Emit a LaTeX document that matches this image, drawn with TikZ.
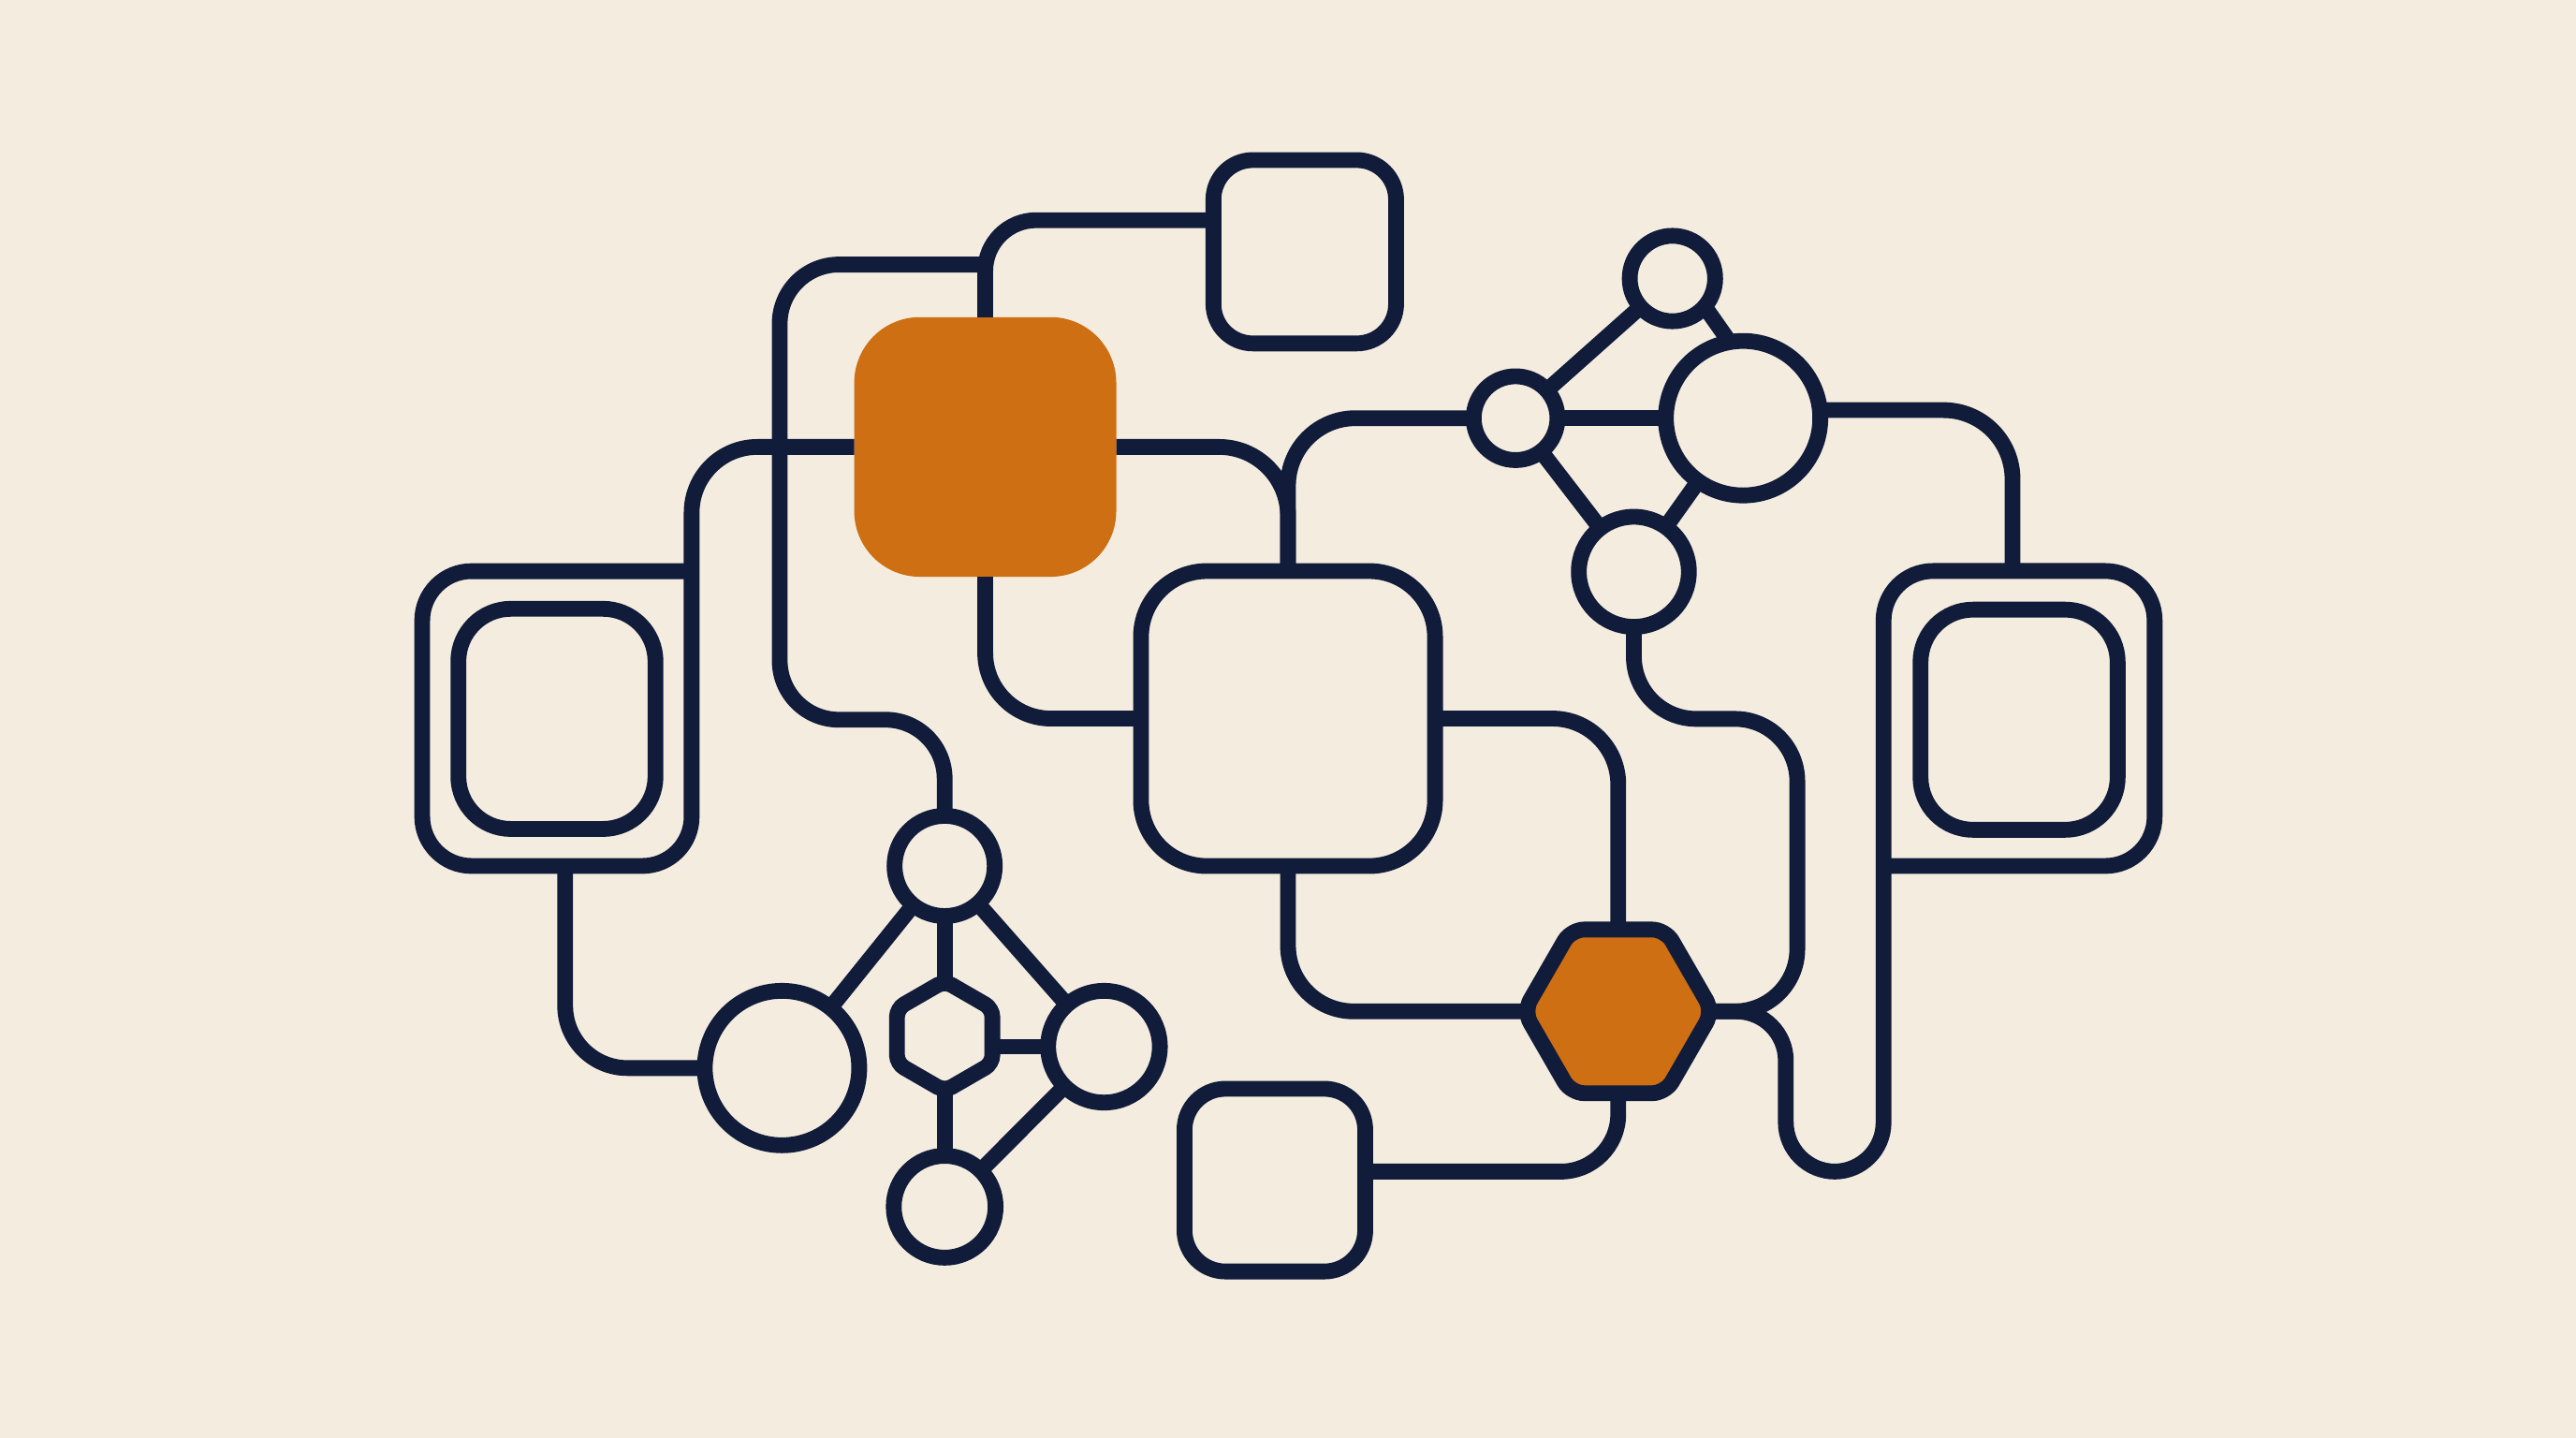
\documentclass[tikz,border=0pt]{standalone}
\usepackage[dvipsnames]{xcolor}
\usepackage{tikz}
\usetikzlibrary{shapes.geometric}

\definecolor{ink}{HTML}{111C3A}
\definecolor{rust}{HTML}{CD6F12}
\definecolor{paper}{HTML}{F4ECDF}

\begin{document}
\begin{tikzpicture}[x=0.5pt, y=-0.5pt, line width=4.8pt,
    wire/.style={draw=ink, line width=4.8pt},
    sq/.style={draw=ink, rectangle, rounded corners=#1, inner sep=0pt, outer sep=0pt},
    ring/.style={draw=ink, circle, inner sep=0pt, outer sep=0pt, minimum size=#1},
    hexa/.style={draw=ink, regular polygon, regular polygon sides=6, inner sep=0pt, outer sep=0pt, minimum size=#1}]
    % draw paper background
    \fill[paper] (0,0) rectangle (1568,875);

    % draw boxes
    \node[sq=12pt, minimum width=55.6pt, minimum height=55.8pt] (tbox) at (794.2,153.2) {};
    \node[fill=rust, rectangle, rounded corners=20pt, inner sep=0pt, outer sep=0pt, minimum width=79.75pt, minimum height=79pt] (core) at (599.7,272) {};
    \node[sq=20pt, minimum width=89.5pt, minimum height=89.75pt] (hub) at (784,437.3) {};
    \node[sq=16pt, minimum width=60pt, minimum height=67pt] (lin) at (339,437.5) {};
    \node[sq=16pt, minimum width=60pt, minimum height=67pt] (rin) at (1229,438) {};
    \node[sq=12.5pt, minimum width=55pt, minimum height=55.6pt] (bbox) at (776,718.2) {};

    % draw hexagons
    \node[hexa=33.5pt, rounded corners=2.5pt, shape border rotate=30] (hexl) at (575,630.5) {};
    \node[hexa=57.5pt, fill=rust, rounded corners=4pt] (hexr) at (985,615.5) {};

    % draw left cluster circles
    \node[ring=47pt] (la) at (476,650) {};
    \node[ring=30.5pt] (lb) at (575,527) {};
    \node[ring=34pt] (lc) at (672,637) {};
    \node[ring=31pt] (ld) at (575,734.4) {};

    % draw right cluster circles
    \node[ring=26pt] (ra) at (1018,169.5) {};
    \node[ring=25.5pt] (rb) at (922.5,254.5) {};
    \node[ring=47pt] (rc) at (1061,254.5) {};
    \node[ring=33.5pt] (rd) at (994.5,348) {};

    % junction points
    \coordinate (tin) at ([yshift=9.6pt]tbox.west);
    \coordinate (tl) at (599.7,161);
    \coordinate (lot) at (344,527);
    \coordinate (bin) at ([yshift=2.6pt]bbox.east);
    \coordinate (rtop) at (1225,347.5);

    % draw wires from the core
    \draw[wire, rounded corners=15.5pt] (core.north) -- (core.north |- tin) -- (tin);
    \draw[wire, rounded corners=18pt] (tl) -- (474.6,161) -- (474.6,438) -- (575,438) -- (lb.north);
    \draw[wire, rounded corners=20pt] (core.west) -- (421,272) [rounded corners=15pt] -- (421,527) -- (257,527) -- (257,347.6) -- (421,347.6);
    \draw[wire, rounded corners=19pt] (lot) -- (344,650) -- (la.west);
    \draw[wire, rounded corners=21pt] (core.east) -- (core.east -| hub.north) -- (hub.north);
    \draw[wire, rounded corners=20pt] (core.south) -- (core.south |- hub.west) -- (hub.west);

    % draw wires around the hub
    \draw[wire, rounded corners=20.5pt] (rb.west) -- (rb.west -| hub.north) -- (hub.north);
    \draw[wire, rounded corners=20pt] (hub.east) -- (hub.east -| hexr.90) -- (hexr.90);
    \draw[wire, rounded corners=20pt] (hub.south) -- (hub.south |- hexr.180) -- (hexr.180);
    \draw[wire, rounded corners=17.5pt] (hexr.270) -- (hexr.270 |- bin) -- (bin);
    \draw[wire, rounded corners=19pt] (rd.south) -- (994.5,437.5) -- (1094,437.5) -- (1094,615.5) -- (hexr.0);
    \draw[wire, rounded corners=15pt] (hexr.0) -- (1087,615.5) -- (1087,713) -- (1146.5,713) -- (1146.5,347.5) -- (1311.5,347.5) -- (1311.5,527) -- (1146.5,527);
    \draw[wire, rounded corners=21pt] (rc.6) -- (rc.6 -| rtop) -- (rtop);

    % draw right cluster links
    \draw[wire] (rb) -- (rc);
    \draw[wire] (rb) -- (ra);
    \draw[wire] (ra.-41) -- (rc.100);
    \draw[wire] (rb) -- (rd);
    \draw[wire] (rc) -- (rd);

    % draw left cluster links
    \draw[wire] (lb) -- (la);
    \draw[wire] (lb) -- (lc);
    \draw[wire] (ld) -- (lc);
    \draw[wire] (lb) -- (hexl);
    \draw[wire] (hexl) -- (ld);
    \draw[wire] (hexl.0 |- lc.west) -- (lc.west);
\end{tikzpicture}
\end{document}
